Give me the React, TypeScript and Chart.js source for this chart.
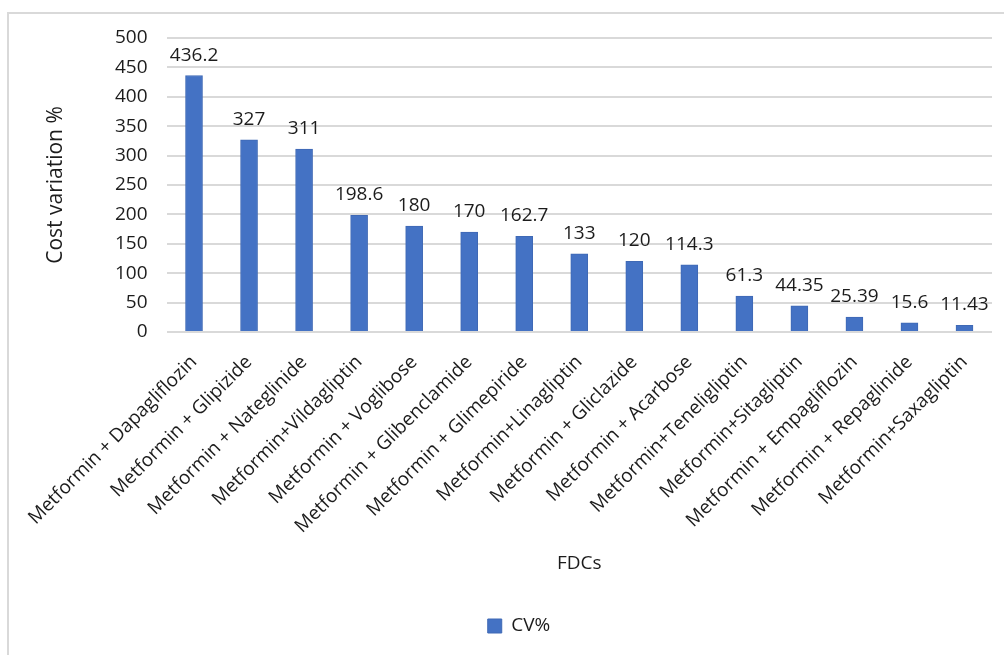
import React, { useEffect, useRef } from "react";
import { Chart, registerables } from "chart.js";

Chart.register(...registerables);

const categories: string[] = [
  "Metformin + Dapagliflozin",
  "Metformin + Glipizide",
  "Metformin + Nateglinide",
  "Metformin+Vildagliptin",
  "Metformin + Voglibose",
  "Metformin + Glibenclamide",
  "Metformin + Glimepiride",
  "Metformin+Linagliptin",
  "Metformin + Gliclazide",
  "Metformin + Acarbose",
  "Metformin+Teneligliptin",
  "Metformin+Sitagliptin",
  "Metformin + Empagliflozin",
  "Metformin + Repaglinide",
  "Metformin+Saxagliptin",
];

const cvValues: number[] = [
  436.2, 327, 311, 198.6, 180, 170, 162.7, 133, 120, 114.3, 61.3, 44.35, 25.39, 15.6, 11.43,
];

const yMin = 0;
const yMax = 500;
const yStep = 50;

const seriesLabel = "CV%";
const xTitle = "FDCs";
const yTitle = "Cost variation %";

const FONT = "'Open Sans', 'DejaVu Sans', sans-serif";
const TEXT = "#1c1c1c";

const valueLabels = {
  id: "valueLabels",
  afterDatasetsDraw(chart: any) {
    const ctx = chart.ctx;
    const meta = chart.getDatasetMeta(0);
    ctx.save();
    ctx.font = `19px ${FONT}`;
    ctx.fillStyle = TEXT;
    ctx.textAlign = "center";
    ctx.textBaseline = "alphabetic";
    meta.data.forEach((bar: any, i: number) => {
      ctx.fillText(String(cvValues[i]), bar.x, bar.y - 15);
    });
    ctx.restore();
  },
};

export default function App() {
  const ref = useRef<HTMLCanvasElement | null>(null);

  useEffect(() => {
    if (!ref.current) return;
    const chart = new Chart(ref.current, {
      type: "bar",
      data: {
        labels: categories,
        datasets: [
          {
            label: seriesLabel,
            data: cvValues,
            backgroundColor: "#4472C4",
            borderColor: "#3F69B5",
            borderWidth: 1,
            barThickness: 17,
          },
        ],
      },
      options: {
        responsive: false,
        animation: false,
        layout: { padding: { left: 46, right: 12, top: 38, bottom: 9.5 } },
        plugins: {
          legend: {
            position: "bottom",
            labels: {
              boxWidth: 14,
              boxHeight: 14,
              padding: 10,
              color: TEXT,
              font: { family: FONT, size: 19 },
            },
          },
          tooltip: { enabled: false },
        },
        scales: {
          x: {
            grid: { display: false, drawTicks: false },
            border: { display: false },
            ticks: {
              autoSkip: false,
              maxRotation: 45,
              minRotation: 45,
              padding: 19,
              color: TEXT,
              font: { family: FONT, size: 19 },
            },
            title: {
              display: true,
              text: xTitle,
              color: TEXT,
              font: { family: FONT, size: 19 },
              padding: { top: 0, bottom: 32 },
            },
            afterFit(scale: any) {
              scale.height = 274.5;
            },
          },
          y: {
            min: yMin,
            max: yMax,
            ticks: {
              stepSize: yStep,
              padding: 19,
              color: TEXT,
              font: { family: FONT, size: 19 },
            },
            grid: { color: "#d9d9d9", lineWidth: 2, drawTicks: false },
            border: { display: false },
            title: {
              display: true,
              text: yTitle,
              color: TEXT,
              font: { family: FONT, size: 21 },
              padding: { top: -3, bottom: 0 },
            },
            afterFit(scale: any) {
              scale.width = 120.5;
            },
          },
        },
      },
      plugins: [valueLabels],
    });
    return () => chart.destroy();
  }, []);

  return (
    <div style={{ position: "fixed", left: 0, top: 0, width: 1004, height: 655, background: "#fff" }}>
      <div
        style={{
          position: "absolute",
          left: 7,
          top: 12,
          right: -10,
          bottom: -10,
          borderLeft: "2px solid #d9d9d9",
          borderTop: "2px solid #d9d9d9",
        }}
      />
      <canvas ref={ref} width={1004} height={655} style={{ position: "absolute", left: 0, top: 0, display: "block" }} />
    </div>
  );
}
